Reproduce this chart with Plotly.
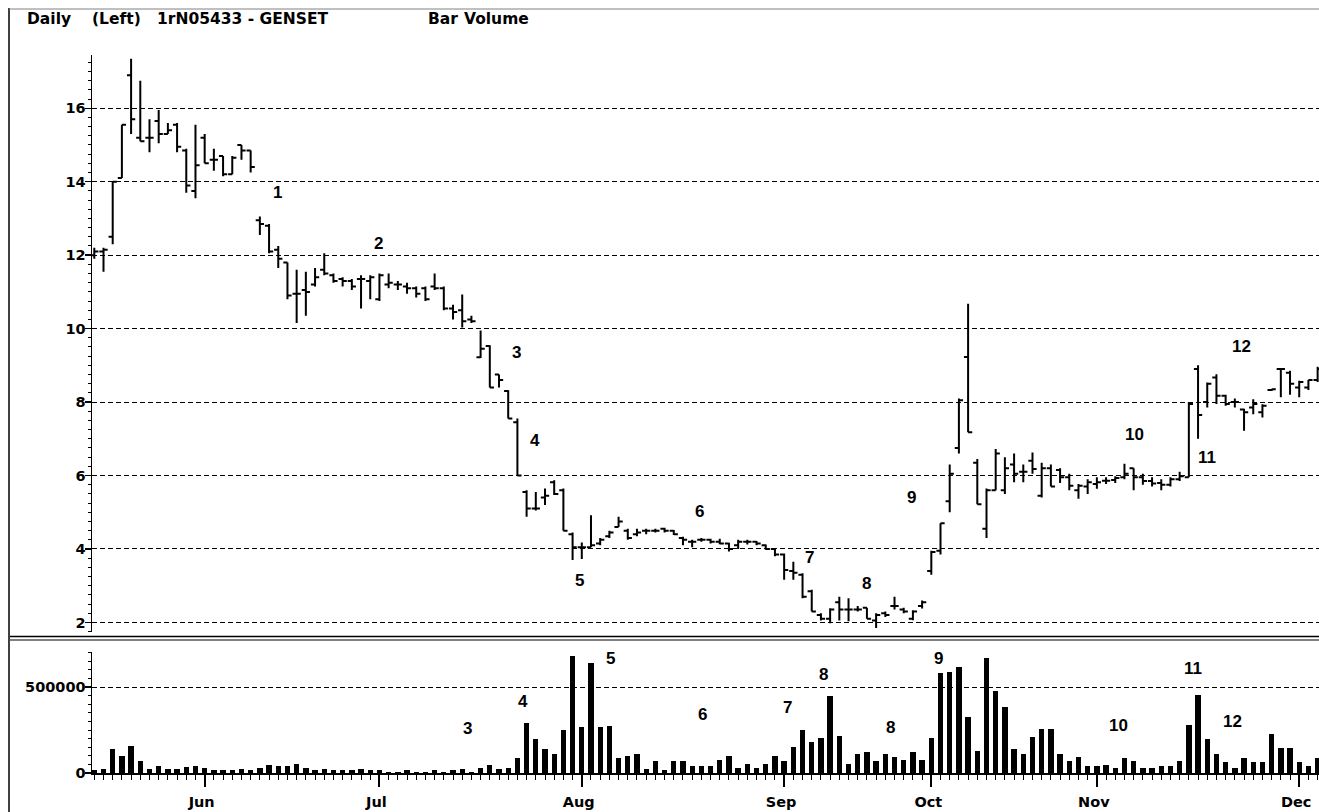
import plotly.graph_objects as go

# ---------------- data ----------------
# bar index -> trading day; months start at these bar indices
month_idx = [12, 31, 53, 75, 91, 109, 131]
month_lbl = ["Jun", "Jul", "Aug", "Sep", "Oct", "Nov", "Dec"]

opens = [12.0, 12.1, 12.5, 14.1, 16.9, 15.2, 15.2, 15.65, 15.3, 15.55,
         14.85, 13.75, 15.2, 14.6, 14.7, 14.2, 15.0, 14.85, 12.95, 12.8,
         12.15, 11.8, 10.95, 11.05, 11.2, 11.6, 11.45, 11.35, 11.3, 11.35,
         11.3, 10.8, 11.2, 11.2, 11.15, 11.1, 11.1, 11.15, 11.1, 10.55,
         10.5, 10.25, 9.22, 9.53, 8.75, 8.3, 7.45, 5.55, 5.1, 5.4,
         5.82, 5.6, 4.4, 4.05, 4.05, 4.15, 4.35, 4.6, 4.5, 4.4,
         4.5, 4.5, 4.55, 4.5, 4.3, 4.2, 4.25, 4.25, 4.2, 4.15,
         4.1, 4.2, 4.2, 4.1, 4.0, 3.85, 3.4, 3.3, 2.85, 2.2,
         2.1, 2.55, 2.35, 2.35, 2.4, 2.05, 2.25, 2.45, 2.35, 2.1,
         2.45, 3.4, 3.95, 5.3, 6.75, 9.23, 6.35, 4.55, 5.6, 5.6,
         6.3, 6.1, 6.4, 5.45, 6.2, 6.15, 5.95, 5.6, 5.7, 5.77,
         5.86, 5.88, 5.95, 6.2, 5.95, 5.85, 5.8, 5.75, 5.9, 5.95,
         8.9, 8.0, 8.67, 8.17, 8.0, 7.8, 7.85, 7.72, 8.33, 8.9,
         8.8, 8.4, 8.4, 8.6]
highs = [12.2, 12.2, 14.0, 15.55, 17.35, 16.75, 15.7, 15.95, 15.6, 15.6,
         14.9, 15.55, 15.3, 14.9, 14.7, 14.7, 15.0, 14.85, 13.05, 12.85,
         12.25, 11.8, 11.6, 11.55, 11.65, 12.05, 11.5, 11.4, 11.35, 11.45,
         11.45, 11.5, 11.5, 11.3, 11.25, 11.15, 11.15, 11.5, 11.15, 10.65,
         10.93, 10.35, 9.95, 9.55, 8.75, 8.32, 7.55, 5.6, 5.55, 5.65,
         5.87, 5.65, 4.45, 4.18, 4.92, 4.3, 4.5, 4.88, 4.55, 4.55,
         4.55, 4.55, 4.58, 4.52, 4.33, 4.25, 4.3, 4.28, 4.28, 4.17,
         4.25, 4.25, 4.22, 4.12, 4.02, 3.88, 3.65, 3.34, 2.89, 2.25,
         2.39, 2.7, 2.66, 2.45, 2.4, 2.25, 2.3, 2.7, 2.4, 2.33,
         2.6, 3.95, 4.7, 6.3, 8.1, 10.68, 6.45, 5.65, 6.72, 6.5,
         6.6, 6.3, 6.63, 6.35, 6.3, 6.2, 6.05, 5.77, 5.9, 5.95,
         5.95, 5.98, 6.32, 6.2, 6.05, 5.95, 5.9, 5.95, 6.1, 8.0,
         9.0, 8.53, 8.76, 8.2, 8.1, 7.82, 8.08, 7.94, 8.35, 8.92,
         8.85, 8.58, 8.6, 8.96]
lows = [11.9, 11.55, 12.3, 14.1, 15.3, 15.1, 14.8, 15.05, 15.3, 14.8,
        13.7, 13.55, 14.5, 14.3, 14.15, 14.2, 14.6, 14.25, 12.55, 12.05,
        11.65, 10.8, 10.15, 10.35, 11.15, 11.45, 11.25, 11.15, 11.05, 10.55,
        10.8, 10.75, 11.1, 11.05, 10.95, 10.85, 10.75, 11.05, 10.5, 10.25,
        10.03, 10.15, 9.2, 8.4, 8.4, 7.55, 6.0, 4.88, 5.05, 5.2,
        5.47, 4.5, 3.7, 3.73, 4.05, 4.1, 4.3, 4.6, 4.25, 4.35,
        4.4, 4.45, 4.45, 4.38, 4.1, 4.05, 4.2, 4.15, 4.13, 3.93,
        4.0, 4.12, 4.1, 3.98, 3.8, 3.16, 3.16, 2.66, 2.3, 2.05,
        1.98, 2.05, 2.03, 2.3, 2.1, 1.85, 2.15, 2.35, 2.25, 2.06,
        2.38, 3.3, 3.85, 5.0, 6.6, 7.18, 5.22, 4.3, 5.6, 5.5,
        5.82, 5.82, 6.05, 5.4, 5.7, 5.8, 5.6, 5.37, 5.5, 5.64,
        5.77, 5.8, 5.9, 5.6, 5.75, 5.7, 5.6, 5.7, 5.85, 5.95,
        7.0, 7.85, 7.95, 7.9, 7.85, 7.22, 7.67, 7.58, 8.3, 8.13,
        8.2, 8.13, 8.33, 8.55]
closes = [12.1, 12.15, 14.0, 15.55, 15.7, 15.1, 15.2, 15.3, 15.4, 14.95,
          13.9, 14.45, 14.5, 14.6, 14.2, 14.65, 14.85, 14.4, 12.85, 12.1,
          11.9, 10.9, 10.95, 11.0, 11.4, 11.5, 11.3, 11.3, 11.15, 11.35,
          11.4, 11.45, 11.25, 11.2, 11.1, 10.95, 10.8, 11.1, 10.55, 10.45,
          10.2, 10.2, 9.45, 8.4, 8.6, 7.55, 6.0, 5.1, 5.1, 5.45,
          5.5, 4.5, 4.05, 4.05, 4.1, 4.25, 4.45, 4.75, 4.3, 4.45,
          4.5, 4.5, 4.5, 4.4, 4.25, 4.2, 4.25, 4.2, 4.15, 4.0,
          4.2, 4.2, 4.15, 4.0, 3.85, 3.43, 3.35, 2.7, 2.3, 2.1,
          2.35, 2.35, 2.35, 2.35, 2.1, 2.2, 2.2, 2.45, 2.3, 2.3,
          2.55, 3.92, 4.7, 6.05, 8.05, 7.18, 5.22, 5.6, 6.6, 6.2,
          6.05, 6.1, 6.18, 6.2, 5.7, 5.95, 5.72, 5.72, 5.82, 5.82,
          5.86, 5.93, 6.05, 5.95, 5.85, 5.78, 5.75, 5.9, 5.98, 7.95,
          7.65, 8.5, 8.17, 7.95, 8.0, 7.72, 7.95, 7.9, 8.35, 8.9,
          8.5, 8.55, 8.6, 8.9]
volumes = [17000, 25000, 137600, 100800, 159000, 70000, 25000, 38800, 25000, 25000,
           33000, 38800, 31000, 15500, 15500, 15500, 23000, 15500, 31000, 46500,
           38800, 38800, 54000, 31000, 15500, 23000, 15500, 15500, 15500, 23000,
           15500, 15500, 7750, 7750, 15500, 7750, 7750, 15500, 7750, 15500,
           23000, 7750, 31000, 46500, 23000, 31000, 85000, 288800, 197700, 137600,
           108500, 250000, 682000, 265500, 637600, 265500, 273000, 85000, 100800, 108500,
           25000, 69800, 15500, 69800, 69800, 38800, 38800, 38800, 77500, 100800,
           31000, 54000, 31000, 54000, 100800, 69800, 153000, 250000, 182000, 205000,
           447700, 213000, 54000, 108500, 122000, 69800, 108500, 93000, 77500, 122000,
           77500, 205000, 583000, 585000, 614000, 327500, 130000, 666700, 476700, 385700,
           137600, 108500, 211200, 257800, 257800, 108500, 69800, 91000, 38800, 38800,
           46500, 31000, 85000, 69800, 31000, 31000, 38800, 38800, 69800, 281000,
           455000, 197700, 108500, 62000, 31000, 85000, 62000, 62000, 228700, 145300,
           145300, 62000, 38800, 85000]
days = list(range(len(closes)))

# wave-count labels: (text, bar index, price) and (text, bar index, volume)
price_labels = [("1", 19.9, 13.72), ("2", 30.95, 12.33), ("3", 45.95, 9.36),
                ("4", 47.9, 6.96), ("5", 52.8, 3.15), ("6", 65.85, 5.03),
                ("7", 77.8, 3.78), ("8", 83.9, 3.07), ("9", 88.8, 5.39),
                ("10", 113.1, 7.13), ("11", 121.0, 6.5), ("12", 124.7, 9.5)]
vol_labels = [("3", 40.6, 261600), ("4", 46.6, 418600), ("5", 56.1, 668600),
              ("6", 66.1, 343000), ("7", 75.4, 383700), ("8", 79.3, 575600),
              ("8", 86.6, 267400), ("9", 91.8, 668600), ("10", 111.3, 279000),
              ("11", 119.4, 604700), ("12", 123.7, 302300)]

price_ticks = [2, 4, 6, 8, 10, 12, 14, 16]
vol_ticks = [0, 500000]
vol_tick_text = ["0", "500000"]

# ---------------- figure ----------------
W, H = 1319, 812
SANS = "DejaVu Sans"
NUMF = "Liberation Sans"


def px_x(p):
    return p / W


def px_y(p):
    return 1 - p / H


fig = go.Figure()
fig.add_trace(go.Ohlc(
    x=days, open=opens, high=highs, low=lows, close=closes,
    increasing=dict(line=dict(color="black", width=2)),
    decreasing=dict(line=dict(color="black", width=2)),
    tickwidth=0.45, xaxis="x", yaxis="y", hoverinfo="skip", showlegend=False))
fig.add_trace(go.Bar(
    x=days, y=volumes, marker=dict(color="black", line=dict(width=0)),
    width=0.58, xaxis="x2", yaxis="y2", hoverinfo="skip", showlegend=False))

xr = [-0.25, 133.15]
tickfont = dict(family=SANS, size=14.5, color="black", weight="bold")
monthfont = dict(family=SANS, size=14.5, color="black", weight="bold")
fig.update_layout(
    width=W, height=H, margin=dict(l=0, r=0, t=0, b=0, autoexpand=False),
    paper_bgcolor="white", plot_bgcolor="white", showlegend=False,
    bargap=0,
    xaxis=dict(domain=[px_x(92), 1], range=xr, showticklabels=False, ticks="",
               showgrid=False, zeroline=False, showline=False, automargin=False,
               rangeslider=dict(visible=False), anchor="y", matches="x2"),
    yaxis=dict(domain=[px_y(632), px_y(55)], range=[1.74, 17.45], anchor="x",
               tickvals=price_ticks, ticktext=[str(v) for v in price_ticks],
               ticks="outside", ticklen=6, tickwidth=1.5, tickcolor="black",
               showline=True, linecolor="black", linewidth=1.5,
               showgrid=True, gridcolor="black", gridwidth=1, griddash="5px,3px",
               zeroline=False, tickfont=tickfont, automargin=False,
               ticklabelstandoff=-4,
               minor=dict(dtick=0.25, tick0=0, ticks="outside", ticklen=3,
                          tickcolor="black", tickwidth=1, showgrid=False)),
    xaxis2=dict(domain=[px_x(92), 1], range=xr, anchor="y2",
                tickvals=month_idx, ticktext=month_lbl, ticks="outside",
                ticklen=12, tickwidth=2, tickcolor="black", showgrid=False,
                zeroline=False, showline=True, linecolor="black", linewidth=2,
                tickfont=monthfont, ticklabelstandoff=3, ticklabelshift=-3,
                automargin=False,
                minor=dict(dtick=1, tick0=0, ticks="outside", ticklen=5,
                           tickcolor="black", tickwidth=1, showgrid=False)),
    yaxis2=dict(domain=[px_y(773), px_y(652)], range=[0, 703500], anchor="x2",
                tickvals=vol_ticks, ticktext=vol_tick_text,
                ticks="outside", ticklen=6, tickwidth=1.5, tickcolor="black",
                showline=True, linecolor="black", linewidth=1.5,
                showgrid=True, gridcolor="black", gridwidth=1, griddash="5px,3px",
                zeroline=False, tickfont=tickfont, automargin=False,
                ticklabelstandoff=-4,
                minor=dict(dtick=50000, tick0=0, ticks="outside", ticklen=3,
                           tickcolor="black", tickwidth=1, showgrid=False)),
)

ann = []
lblfont = dict(family=NUMF, size=17, color="black", weight="bold")
for t, xi, yv in price_labels:
    ann.append(dict(text=t, x=xi, y=yv, xref="x", yref="y", showarrow=False,
                    font=lblfont, xanchor="center", yanchor="middle"))
for t, xi, yv in vol_labels:
    ann.append(dict(text=t, x=xi, y=yv, xref="x2", yref="y2", showarrow=False,
                    font=lblfont, xanchor="center", yanchor="middle"))

hdrfont = dict(family=SANS, size=15.5, color="black", weight="bold")
for t, xp in [("Daily", 25), ("(Left)", 90), ("1rN05433 - GENSET", 155),
              ("Bar", 426), ("Volume", 462)]:
    ann.append(dict(text=t, x=px_x(xp), y=px_y(19), xref="paper", yref="paper",
                    showarrow=False, font=hdrfont, xanchor="left",
                    yanchor="middle"))
fig.update_layout(annotations=ann)

shapes = [
    # window frame
    dict(type="line", xref="paper", yref="paper", x0=px_x(9), x1=px_x(9),
         y0=px_y(8), y1=0, line=dict(color="#404040", width=2)),
    dict(type="line", xref="paper", yref="paper", x0=px_x(9), x1=1,
         y0=px_y(9), y1=px_y(9), line=dict(color="#808080", width=1)),
    # panel separator (double line)
    dict(type="line", xref="paper", yref="paper", x0=px_x(10), x1=1,
         y0=px_y(636.5), y1=px_y(636.5), line=dict(color="black", width=1.5)),
    dict(type="line", xref="paper", yref="paper", x0=px_x(10), x1=1,
         y0=px_y(640), y1=px_y(640), line=dict(color="#808080", width=2)),
]
fig.update_layout(shapes=shapes)

# remove the default 8px page margin so the figure fills the window exactly
page_fix = ("document.body.style.margin='0';"
            "document.body.style.overflow='hidden';"
            "document.documentElement.style.overflow='hidden';")
fig.write_html("out.html", post_script=page_fix,
               config={"displayModeBar": False, "staticPlot": True})
